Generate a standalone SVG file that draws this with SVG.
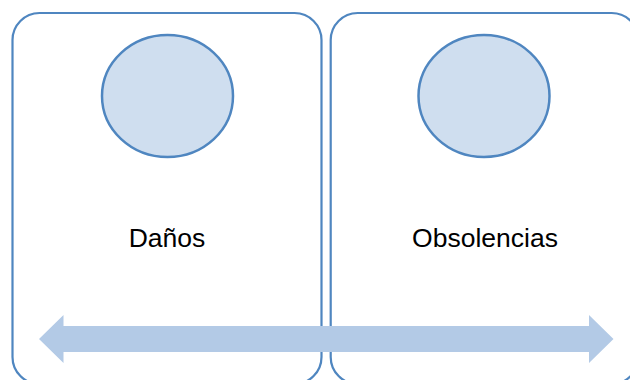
<svg xmlns="http://www.w3.org/2000/svg" width="630" height="380" viewBox="0 0 630 380">
  <style>
    .box { fill: #FFFFFF; stroke: #4F86C0; stroke-width: 2.2; }
    .circ { fill: #CFDEEF; stroke: #4F86C0; stroke-width: 2.5; }
    .lbl { font-family: "Liberation Sans", Arial, sans-serif; font-size: 26.5px; fill: #000000; text-anchor: middle; }
    .arrow { fill: #B3CAE6; }
  </style>
  <rect width="630" height="380" fill="#FFFFFF"/>
  <g id="node-danos">
    <rect class="box" x="12.5" y="13" width="309" height="371" rx="27" ry="27"/>
    <ellipse class="circ" cx="167.5" cy="96" rx="65.5" ry="61"/>
    <text class="lbl" x="167" y="247">Daños</text>
  </g>
  <g id="node-obsolencias">
    <rect class="box" x="330.7" y="13" width="308" height="371" rx="27" ry="27"/>
    <ellipse class="circ" cx="484" cy="96" rx="65.5" ry="61"/>
    <text class="lbl" x="485" y="247">Obsolencias</text>
  </g>
  <g id="connectors">
    <polygon class="arrow" points="39,339 63.5,315 63.5,326 589,326 589,315 613.5,339 589,363 589,352 63.5,352 63.5,363"/>
  </g>
</svg>
